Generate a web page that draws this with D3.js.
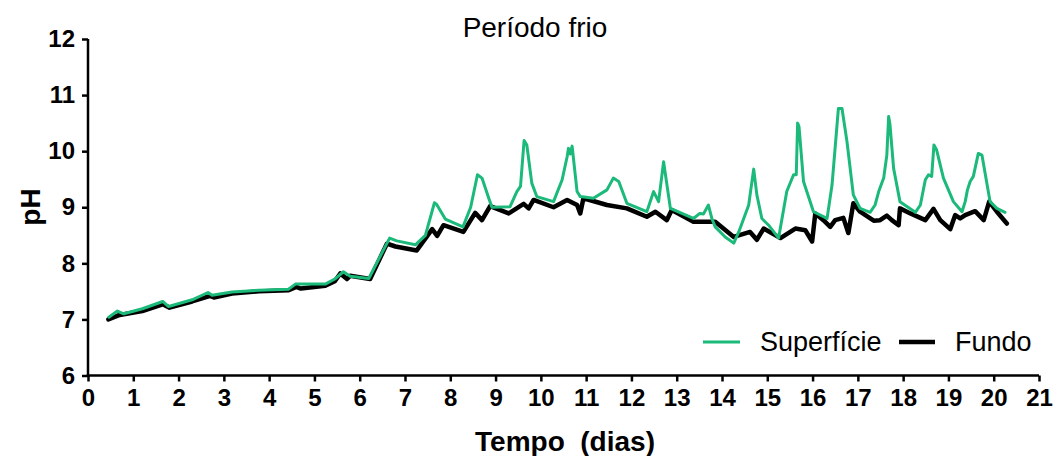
<!DOCTYPE html>
<html>
<head>
<meta charset="utf-8">
<script src="https://cdn.jsdelivr.net/npm/d3@7/dist/d3.min.js"></script>
<style>
  html, body { margin: 0; padding: 0; background: #fff; }
  svg { display: block; font-family: "Liberation Sans", Arial, sans-serif; }
  text { white-space: pre; }
</style>
</head>
<body>
<svg id="chart" width="1053" height="456"></svg>
<script>
// pH series, surface and bottom, over time (days)
const diasSuperficie = [0.46,0.65,0.79,1.20,1.65,1.78,2.30,2.65,2.74,3.18,3.77,4.43,4.58,5.24,5.45,5.64,5.79,6.20,6.66,6.82,7.23,7.45,7.65,7.70,7.89,8.28,8.45,8.60,8.70,8.85,8.92,9.32,9.47,9.55,9.63,9.69,9.80,9.91,10.28,10.47,10.58,10.61,10.65,10.69,10.80,10.87,11.16,11.46,11.60,11.72,11.90,12.34,12.49,12.60,12.71,12.86,13.37,13.51,13.59,13.70,13.78,13.85,14.07,14.26,14.37,14.59,14.62,14.70,14.77,14.88,15.03,15.25,15.43,15.58,15.64,15.67,15.70,15.80,16.02,16.32,16.43,16.57,16.65,16.76,16.90,17.05,17.27,17.38,17.46,17.57,17.64,17.68,17.71,17.79,17.93,18.27,18.38,18.49,18.56,18.63,18.68,18.74,18.89,19.11,19.30,19.37,19.42,19.48,19.55,19.66,19.74,19.92,20.07,20.25];
const phSuperficie = [7.04,7.15,7.10,7.19,7.32,7.23,7.35,7.48,7.43,7.49,7.52,7.54,7.63,7.63,7.72,7.85,7.77,7.73,8.45,8.40,8.33,8.50,9.08,9.05,8.79,8.65,9.00,9.58,9.52,9.16,9.00,9.01,9.28,9.37,10.19,10.11,9.43,9.19,9.10,9.49,9.90,10.05,9.95,10.09,9.28,9.19,9.16,9.31,9.52,9.46,9.07,8.92,9.28,9.10,9.81,8.98,8.80,8.89,8.88,9.04,8.79,8.65,8.47,8.36,8.56,9.04,9.22,9.68,9.22,8.80,8.68,8.45,9.28,9.58,9.58,10.50,10.44,9.46,8.92,8.80,9.40,10.76,10.76,10.17,9.22,8.98,8.91,9.04,9.28,9.52,9.93,10.62,10.47,9.69,9.10,8.91,9.04,9.49,9.58,9.55,10.11,10.02,9.52,9.10,8.92,9.10,9.31,9.46,9.55,9.96,9.93,9.10,8.98,8.91];

const diasFundo = [0.45,0.70,1.20,1.65,1.80,2.30,2.70,2.78,3.18,3.77,4.43,4.60,4.70,5.24,5.45,5.57,5.72,5.79,6.23,6.60,6.79,7.26,7.60,7.71,7.85,8.29,8.55,8.70,8.88,9.29,9.62,9.73,9.84,10.28,10.58,10.80,10.87,10.94,11.46,11.90,12.34,12.53,12.78,12.89,13.37,13.85,14.26,14.62,14.77,14.92,15.29,15.62,15.84,15.99,16.06,16.24,16.39,16.50,16.68,16.79,16.90,17.05,17.35,17.49,17.64,17.75,17.90,17.93,18.16,18.38,18.49,18.67,18.82,19.04,19.15,19.26,19.37,19.59,19.78,19.90,20.07,20.29];
const phFundo = [7.00,7.08,7.15,7.27,7.21,7.32,7.42,7.39,7.46,7.50,7.52,7.58,7.55,7.60,7.68,7.82,7.72,7.78,7.72,8.35,8.30,8.23,8.61,8.49,8.68,8.56,8.90,8.77,9.02,8.89,9.06,8.98,9.13,9.00,9.13,9.04,8.89,9.16,9.04,8.98,8.83,8.92,8.77,8.95,8.74,8.74,8.47,8.56,8.42,8.62,8.45,8.62,8.59,8.39,8.89,8.77,8.65,8.77,8.81,8.54,9.07,8.92,8.76,8.77,8.85,8.77,8.68,8.98,8.89,8.81,8.77,8.97,8.77,8.61,8.86,8.80,8.86,8.93,8.77,9.10,8.92,8.71];

const xTicks = d3.range(0, 22);
const yTicks = [6, 7, 8, 9, 10, 11, 12];
const seriesNames = ["Superfície", "Fundo"];
const seriesColors = ["#1bb97a", "#000000"];

const svg = d3.select("#chart");
const x = d3.scaleLinear().domain([0, 21]).range([88, 1039]);
const y = d3.scaleLinear().domain([6, 12]).range([375.5, 39]);

// axes
const xAxis = svg.append("g")
  .attr("transform", `translate(0,${y(6)})`)
  .call(d3.axisBottom(x).tickValues(xTicks).tickFormat(d3.format("d")).tickSizeOuter(0).tickSize(6).tickPadding(7));
const yAxis = svg.append("g")
  .attr("transform", `translate(${x(0)},0)`)
  .call(d3.axisLeft(y).tickValues(yTicks).tickFormat(d3.format("d")).tickSizeOuter(0).tickSize(6).tickPadding(7));

[xAxis, yAxis].forEach(g => {
  g.select(".domain").attr("stroke", "#000").attr("stroke-width", 2.5);
  g.selectAll(".tick line").attr("stroke", "#000").attr("stroke-width", 2.5);
  g.selectAll(".tick text")
    .attr("fill", "#000")
    .style("font-family", '"Liberation Sans", Arial, sans-serif')
    .style("font-size", "24px")
    .style("font-weight", "bold");
});
// extend axis lines so they meet at the corner
xAxis.select(".domain").attr("d", `M${x(0) - 1.25},0H${x(21)}`);
yAxis.select(".domain").attr("d", `M0,${y(6) + 1.25}V${y(12)}`);

// lines
const line = d3.line().x(d => x(d[0])).y(d => y(d[1]));
const fundo = diasFundo.map((d, i) => [d, phFundo[i]]);
const superficie = diasSuperficie.map((d, i) => [d, phSuperficie[i]]);

svg.append("path").datum(fundo)
  .attr("d", line).attr("fill", "none")
  .attr("stroke", seriesColors[1]).attr("stroke-width", 4.5)
  .attr("stroke-linejoin", "round").attr("stroke-linecap", "round");
svg.append("path").datum(superficie)
  .attr("d", line).attr("fill", "none")
  .attr("stroke", seriesColors[0]).attr("stroke-width", 3)
  .attr("stroke-linejoin", "round").attr("stroke-linecap", "round");

// title and axis labels
svg.append("text").attr("x", 535).attr("y", 37).attr("text-anchor", "middle")
  .style("font-size", "28px").text("Período frio");
svg.append("text").attr("x", 565).attr("y", 451).attr("text-anchor", "middle")
  .style("font-size", "28px").style("font-weight", "bold").text("Tempo  (dias)");
svg.append("text").attr("transform", "translate(40,207) rotate(-90)").attr("text-anchor", "middle")
  .style("font-size", "28px").style("font-weight", "bold").text("pH");

// legend
const legend = svg.append("g");
const legendItems = [
  { x1: 703, x2: 740, tx: 760, w: 3 },
  { x1: 899, x2: 935, tx: 955, w: 4.5 }
];
legendItems.forEach((it, i) => {
  legend.append("line").attr("x1", it.x1).attr("x2", it.x2).attr("y1", 342).attr("y2", 342)
    .attr("stroke", seriesColors[i]).attr("stroke-width", it.w);
  legend.append("text").attr("x", it.tx).attr("y", 351)
    .style("font-size", "27px").text(seriesNames[i]);
});
</script>
</body>
</html>
